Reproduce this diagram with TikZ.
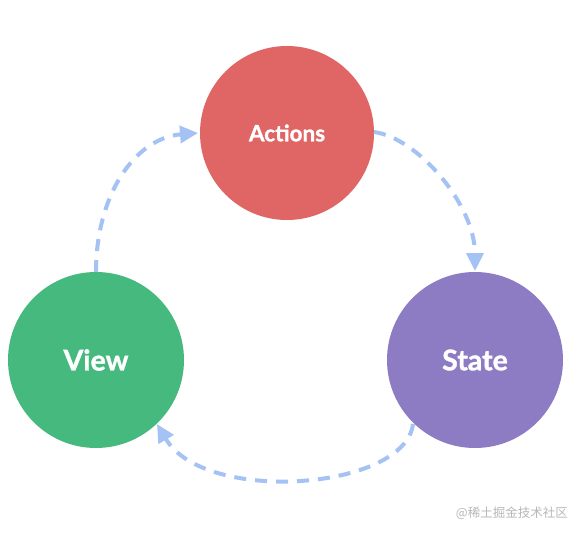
\documentclass[tikz,border=0pt]{standalone}
\usepackage{fontspec}
\setmainfont{Lato}
\newfontfamily\bubblefont[BoldFeatures={FakeBold=1.2}]{Lato}
\newfontfamily\cjk{Noto Sans CJK SC}
\usetikzlibrary{arrows.meta}
\definecolor{actred}{HTML}{E06666}
\definecolor{viewgreen}{HTML}{46B97F}
\definecolor{statepurple}{HTML}{8D7CC4}
\definecolor{arrowblue}{HTML}{A4C2F4}
\definecolor{wmgray}{HTML}{B8B8B8}
\tikzset{
  bubble/.style={circle, minimum size=176pt, inner sep=0pt, text=white, font=\bubblefont\bfseries\fontsize{28.5}{32}\selectfont},
  flow/.style={draw=arrowblue, line width=4pt, dash pattern=on 12pt off 9pt,
    -{Triangle[length=18pt,width=17pt,fill=arrowblue]}},
}
\begin{document}
\begin{tikzpicture}[x=1pt,y=-1pt]
\useasboundingbox (0,0) rectangle (583,535);
\fill[white] (0,0) rectangle (583,535);
\node[bubble, fill=actred, minimum size=174pt, font=\bubblefont\bfseries\fontsize{22.5}{26}\selectfont] (actions) at (287,133) {Actions};
\node[bubble, fill=viewgreen] (view) at (96,360) {View};
\node[bubble, fill=statepurple] (state) at (475,360) {State};
\coordinate (a1) at (96,272);
\coordinate (a1e) at (198,133);
\coordinate (a2) at (374,132);
\coordinate (a2e) at (475,271);
\coordinate (a3) at (413,424);
\coordinate (a3e) at (157,424);
\draw[flow] (a1) .. controls (96,195) and (135,138) .. (a1e);
\draw[flow] (a2) .. controls (418,138) and (475,205) .. (a2e);
\draw[flow] (a3) .. controls (405,490) and (205,505) .. (a3e);
\node[anchor=east, text=wmgray, font=\cjk\fontsize{12.5}{14}\selectfont, inner sep=0pt] (wm) at (568,513) {@稀土掘金技术社区};
\end{tikzpicture}
\end{document}
